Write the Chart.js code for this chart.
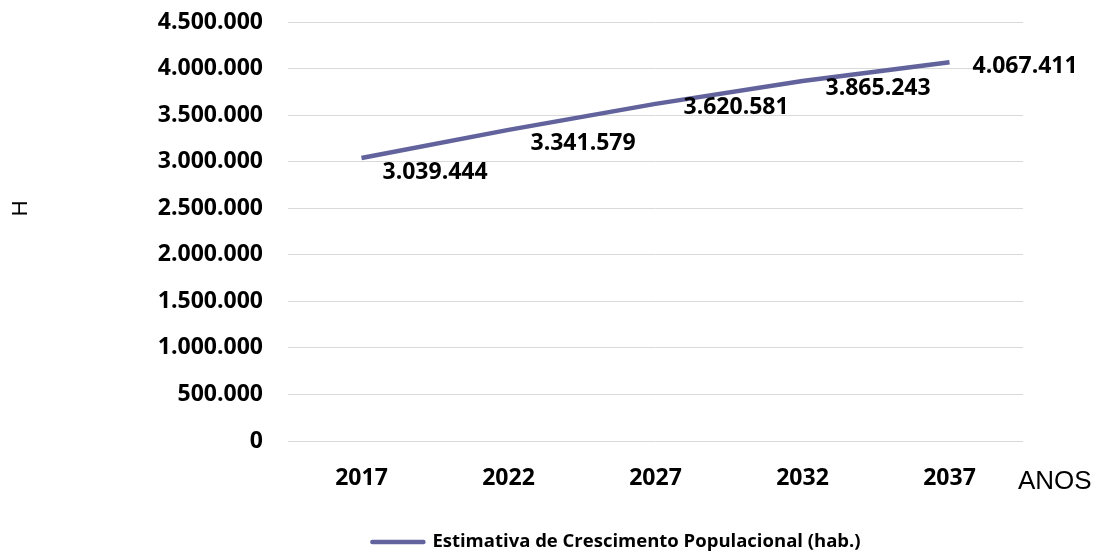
<!DOCTYPE html>
<html>
<head>
<meta charset="utf-8">
<script src="https://cdn.jsdelivr.net/npm/chart.js@4/dist/chart.umd.min.js"></script>
<style>
  html, body { margin: 0; padding: 0; background: #fff; }
  #wrap { width: 1096px; height: 558px; position: relative; }
</style>
</head>
<body>
<div id="wrap"><canvas id="c" width="1096" height="558"></canvas></div>
<script>
const categories = ['2017', '2022', '2027', '2032', '2037'];
const populationValues = [3039444, 3341579, 3620581, 3865243, 4067411];
const seriesLabel = 'Estimativa de Crescimento Populacional (hab.)';
const yTitle = 'H';
const xTitle = 'ANOS';
const yMin = 0, yMax = 4500000, yStep = 500000;

function fmt(v) {
  return String(Math.round(v)).replace(/\B(?=(\d{3})+(?!\d))/g, '.');
}

const lineColor = '#62629c';
const boldFont = '"Open Sans", "Noto Sans", sans-serif';

const labelPlugin = {
  id: 'pointLabels',
  afterDatasetsDraw(chart, args, opts) {
    const ctx = chart.ctx;
    const meta = chart.getDatasetMeta(0);
    ctx.save();
    ctx.font = 'bold 23px ' + boldFont;
    ctx.fillStyle = '#000';
    ctx.textAlign = 'left';
    ctx.textBaseline = 'middle';
    meta.data.forEach((pt, i) => {
      const v = chart.data.datasets[0].data[i];
      ctx.fillText(fmt(v), pt.x + opts.dx[i], pt.y + opts.dy[i]);
    });
    ctx.restore();
  }
};

const titlesPlugin = {
  id: 'axisTitles',
  afterDraw(chart) {
    const ctx = chart.ctx;
    const area = chart.chartArea;
    const ys = chart.scales.y;
    ctx.save();
    ctx.fillStyle = '#000';
    ctx.font = '22px "Liberation Sans", Arial, sans-serif';
    ctx.textAlign = 'center';
    ctx.textBaseline = 'middle';
    ctx.translate(21, ys.getPixelForValue(2500000));
    ctx.rotate(-Math.PI / 2);
    ctx.fillText(yTitle, 0, 0);
    ctx.restore();

    ctx.save();
    ctx.fillStyle = '#000';
    ctx.font = '26px "Liberation Sans", Arial, sans-serif';
    ctx.textAlign = 'left';
    ctx.textBaseline = 'middle';
    ctx.fillText(xTitle, area.right - 5, area.bottom + 41);
    ctx.restore();
  }
};

const legendPlugin = {
  id: 'customLegend',
  afterDraw(chart) {
    const ctx = chart.ctx;
    const area = chart.chartArea;
    const ds = chart.data.datasets[0];
    ctx.save();
    ctx.font = 'bold 18.5px ' + boldFont;
    const tw = ctx.measureText(ds.label).width;
    const lineLen = 53, gap = 5;
    const total = lineLen + gap + tw;
    const cx = (area.left + area.right) / 2 - 38;
    const x0 = cx - total / 2;
    const y = chart.height - 16;
    ctx.strokeStyle = ds.borderColor;
    ctx.lineWidth = 4.5;
    ctx.lineCap = 'round';
    ctx.beginPath();
    ctx.moveTo(x0 - 2, y);
    ctx.lineTo(x0 + lineLen - 4, y);
    ctx.stroke();
    ctx.fillStyle = '#000';
    ctx.textAlign = 'left';
    ctx.textBaseline = 'middle';
    ctx.fillText(ds.label, x0 + lineLen + gap, y);
    ctx.restore();
  }
};

new Chart(document.getElementById('c'), {
  type: 'line',
  data: {
    labels: categories,
    datasets: [{
      label: seriesLabel,
      data: populationValues,
      borderColor: lineColor,
      backgroundColor: lineColor,
      borderWidth: 4.5,
      pointRadius: 0,
      pointHoverRadius: 0,
      tension: 0,
      fill: false
    }]
  },
  options: {
    responsive: false,
    animation: false,
    devicePixelRatio: 1,
    layout: { padding: { left: 0, right: 73, top: 22, bottom: 0 } },
    plugins: {
      tooltip: { enabled: false },
      legend: { display: false },
      pointLabels: { dx: [21, 22, 28, 23, 23], dy: [14, 14, 4, 7, 4] }
    },
    scales: {
      x: {
        offset: true,
        grid: { display: false },
        border: { display: false },
        afterFit(scale) { scale.height = 117; scale.paddingTop = 0; scale.paddingBottom = 0; },
        ticks: {
          color: '#000',
          font: { family: boldFont, size: 23, weight: 'bold' },
          padding: 16,
          maxRotation: 0
        }
      },
      y: {
        min: yMin,
        max: yMax,
        afterFit(scale) { scale.width = 288; scale.paddingTop = 0; scale.paddingBottom = 0; },
        border: { display: false },
        grid: { color: '#d9d9d9', lineWidth: 1, drawTicks: false },
        ticks: {
          stepSize: yStep,
          color: '#000',
          padding: 25,
          font: { family: boldFont, size: 23, weight: 'bold' },
          callback: (v) => fmt(v)
        }
      }
    }
  },
  plugins: [labelPlugin, titlesPlugin, legendPlugin]
});
</script>
</body>
</html>
